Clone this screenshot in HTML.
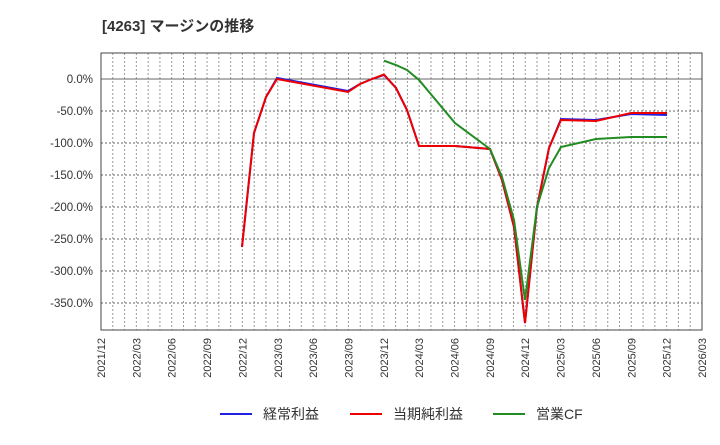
<!DOCTYPE html>
<html><head><meta charset="utf-8"><style>
body{margin:0;background:#fff;}
text{font-family:"Liberation Sans","Noto Sans CJK JP",sans-serif;fill:#333;}
</style></head><body>
<svg width="720" height="440" viewBox="0 0 720 440" xmlns="http://www.w3.org/2000/svg">
<text x="102" y="31" font-size="15" font-weight="bold">[4263]  マージンの推移</text>
<g id="vg" stroke="#999" stroke-width="1" stroke-dasharray="2,2"></g>
<g stroke="#666" stroke-width="1" stroke-dasharray="2,2">
<line x1="101" y1="111" x2="702" y2="111"/><line x1="101" y1="143" x2="702" y2="143"/>
<line x1="101" y1="175" x2="702" y2="175"/><line x1="101" y1="207" x2="702" y2="207"/>
<line x1="101" y1="239" x2="702" y2="239"/><line x1="101" y1="271" x2="702" y2="271"/>
<line x1="101" y1="303" x2="702" y2="303"/>
</g>
<line x1="101" y1="79" x2="702" y2="79" stroke="#666" stroke-width="1"/>
<rect x="101" y="53" width="601" height="277" fill="none" stroke="#444" stroke-width="1"/>
<g font-size="11.5" text-anchor="end">
<text x="93" y="83">0.0%</text><text x="93" y="115">-50.0%</text><text x="93" y="147">-100.0%</text>
<text x="93" y="179">-150.0%</text><text x="93" y="211">-200.0%</text><text x="93" y="243">-250.0%</text>
<text x="93" y="275">-300.0%</text><text x="93" y="307">-350.0%</text>
</g>
<g id="xl" font-size="11"></g>
<polyline fill="none" stroke="#2020e0" stroke-width="2" points="242,247 254,133 266,97 277,78 348,91 360,84 372,79 384,75 396,88 407,110 419,146 455,146 490,149 502,180 514,227 525,323 537,207 549,148 561,119 596,120 631,114 667,115"/>
<polyline fill="none" stroke="#ee0000" stroke-width="2" points="242,247 254,133 266,97 277,79 348,92 360,84 372,79 384,74.5 396,88 407,110 419,146 455,146 490,149 502,180 514,227 525,323 537,207 549,148 561,120 596,121 631,113 667,113"/>
<polyline fill="none" stroke="#228b22" stroke-width="2" points="384,60.7 396,65 407,70 419,80 455,123 490,149 502,177 514,220 525,300 537,207 549,168 561,147 596,139 631,137 667,137"/>
<g font-size="14">
<line x1="220" y1="414" x2="252" y2="414" stroke="#2020e0" stroke-width="2"/><text x="263" y="419">経常利益</text>
<line x1="350" y1="414" x2="382" y2="414" stroke="#ee0000" stroke-width="2"/><text x="393" y="419">当期純利益</text>
<line x1="493" y1="414" x2="525" y2="414" stroke="#228b22" stroke-width="2"/><text x="536" y="419">営業CF</text>
</g>
<script>
var vg=document.getElementById('vg'),xl=document.getElementById('xl'),ns='http://www.w3.org/2000/svg';
for(var m=1;m<51;m++){var x=101+m*601/51;var l=document.createElementNS(ns,'line');l.setAttribute('x1',x);l.setAttribute('x2',x);l.setAttribute('y1',53);l.setAttribute('y2',330);vg.appendChild(l);}
var mo=['03','06','09','12'];
for(var q=0;q<=17;q++){var x=101+q*601/17;var k=(q+3)%4;var yr=2021+Math.floor((q+3)/4);var t=document.createElementNS(ns,'text');t.textContent=yr+'/'+mo[k];t.setAttribute('transform','translate('+(x+4)+',338) rotate(-90)');t.setAttribute('text-anchor','end');xl.appendChild(t);}
</script>
</svg>
</body></html>
